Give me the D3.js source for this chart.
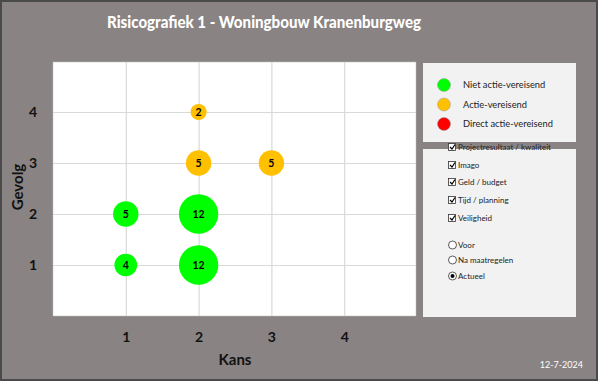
<!DOCTYPE html>
<html><head><meta charset="utf-8">
<script src="https://cdn.jsdelivr.net/npm/d3@7"></script>
<style>body{margin:0;background:#fff}svg{display:block}</style>
</head><body>
<svg id="c" width="598" height="381"></svg>
<script>
const title = "Risicografiek 1 - Woningbouw Kranenburgweg";
const kans = [2, 2, 3, 1, 2, 1, 2];
const gevolg = [4, 3, 3, 2, 2, 1, 1];
const aantal = [2, 5, 5, 5, 12, 4, 12];
const status = ["Actie-vereisend","Actie-vereisend","Actie-vereisend","Niet actie-vereisend","Niet actie-vereisend","Niet actie-vereisend","Niet actie-vereisend"];
const xTicks = [1, 2, 3, 4];
const yTicks = [1, 2, 3, 4];
const legendLabels = ["Niet actie-vereisend", "Actie-vereisend", "Direct actie-vereisend"];
const legendColors = ["#00ff00", "#ffc000", "#ff0000"];
const checkLabels = ["Projectresultaat / kwaliteit", "Imago", "Geld / budget", "Tijd / planning", "Veiligheid"];
const radioLabels = ["Voor", "Na maatregelen", "Actueel"];
const radioSelected = "Actueel";
const dateText = "12-7-2024";

const svg = d3.select("#c");
const W = 598, H = 381;
const font = "Lato, 'Open Sans', sans-serif";
svg.append("rect").attr("x",0).attr("y",0).attr("width",W).attr("height",H).attr("fill","#898383");
svg.append("rect").attr("x",1).attr("y",1).attr("width",W-2).attr("height",H-2).attr("fill","none").attr("stroke","#4a4a4a").attr("stroke-width",2);

svg.append("text").attr("x",264).attr("y",28).attr("text-anchor","middle")
  .attr("font-family",font).attr("font-weight","900").attr("font-size",17).attr("fill","#fff")
  .attr("textLength",314).attr("lengthAdjust","spacingAndGlyphs")
  .text(title);

const pl = 53, pr = 416, pt = 62, pb = 316;
const x = d3.scaleLinear().domain([0,5]).range([pl, pr+1]);
const y = d3.scaleLinear().domain([0,5]).range([pb, pt-1]);
const r = d3.scaleSqrt().domain([0,12]).range([0,19.7]);
const color = d3.scaleOrdinal().domain(legendLabels).range(legendColors);

svg.append("rect").attr("x",pl).attr("y",pt).attr("width",pr-pl).attr("height",pb-pt).attr("fill","#fff")
  .attr("stroke","#bfbfbf").attr("stroke-width",0.5);

const gx = svg.append("g").attr("transform",`translate(0,${pb})`)
  .call(d3.axisBottom(x).tickValues(xTicks).tickSize(-(pb-pt)).tickFormat(d3.format("d")));
const gy = svg.append("g").attr("transform",`translate(${pl},0)`)
  .call(d3.axisLeft(y).tickValues(yTicks).tickSize(-(pr-pl)).tickFormat(d3.format("d")));
[gx, gy].forEach(g => {
  g.select(".domain").remove();
  g.selectAll(".tick line").attr("stroke","#d9d9d9").attr("stroke-width",1.2);
  g.selectAll(".tick text").attr("font-family",font).attr("font-weight","bold").attr("font-size",14).attr("fill","#111");
});
gx.selectAll(".tick text").attr("dy",0).attr("y",26);
gy.selectAll(".tick text").attr("x",-16).attr("dy","0.35em");

svg.append("text").attr("x",235).attr("y",365).attr("text-anchor","middle")
  .attr("font-family",font).attr("font-weight","bold").attr("font-size",15).attr("fill","#111").text("Kans");
svg.append("text").attr("transform","translate(23,187) rotate(-90)").attr("text-anchor","middle")
  .attr("font-family",font).attr("font-weight","bold").attr("font-size",15).attr("fill","#111").text("Gevolg");

const data = kans.map((k,i) => ({k, g: gevolg[i], n: aantal[i], s: status[i]}));
const bub = svg.append("g").selectAll("g").data(data).join("g")
  .attr("transform", d => `translate(${x(d.k)},${y(d.g)})`);
bub.append("circle").attr("r", d => r(d.n)).attr("fill", d => color(d.s));
bub.append("text").attr("text-anchor","middle").attr("dy","0.35em")
  .attr("font-family",font).attr("font-weight","bold").attr("font-size",10.5).attr("fill","#000")
  .text(d => d.n);

// legend box
const lg = svg.append("g");
lg.append("rect").attr("x",423).attr("y",63).attr("width",153).attr("height",79).attr("fill","#f2f2f2");
legendLabels.forEach((l,i) => {
  const yy = 85 + i*19.5;
  lg.append("circle").attr("cx",444).attr("cy",yy).attr("r",6.5).attr("fill",legendColors[i]).attr("stroke","#999").attr("stroke-width",0.5);
  lg.append("text").attr("x",463).attr("y",yy).attr("dy","0.35em").attr("font-family",font).attr("font-size",9.3).attr("fill","#222").text(l);
});

// filter box
const fb = svg.append("g");
fb.append("rect").attr("x",423).attr("y",149).attr("width",153).attr("height",168).attr("fill","#f2f2f2");
const checkY = [147, 165, 182, 200, 218];
checkLabels.forEach((l,i) => {
  const yy = checkY[i];
  fb.append("rect").attr("x",448.5).attr("y",yy-3.5).attr("width",7).attr("height",7).attr("fill","#fff").attr("stroke","#333").attr("stroke-width",0.8);
  fb.append("path").attr("d",`M450,${yy} L452,${yy+2} L455,${yy-2.5}`).attr("fill","none").attr("stroke","#000").attr("stroke-width",1.2);
  fb.append("text").attr("x",458).attr("y",yy).attr("dy","0.35em").attr("font-family",font).attr("font-size",8).attr("fill","#222").text(l);
});
const radioY = [245, 260, 276];
radioLabels.forEach((l,i) => {
  const yy = radioY[i];
  fb.append("circle").attr("cx",452.5).attr("cy",yy).attr("r",4).attr("fill","#fff").attr("stroke","#333").attr("stroke-width",0.8);
  if (l === radioSelected) fb.append("circle").attr("cx",452.5).attr("cy",yy).attr("r",2).attr("fill","#000");
  fb.append("text").attr("x",458).attr("y",yy).attr("dy","0.35em").attr("font-family",font).attr("font-size",8).attr("fill","#222").text(l);
});

svg.append("text").attr("x",583).attr("y",365).attr("dy","0.35em").attr("text-anchor","end")
  .attr("font-family",font).attr("font-size",9).attr("fill","#fff").text(dateText);
</script>
</body></html>
